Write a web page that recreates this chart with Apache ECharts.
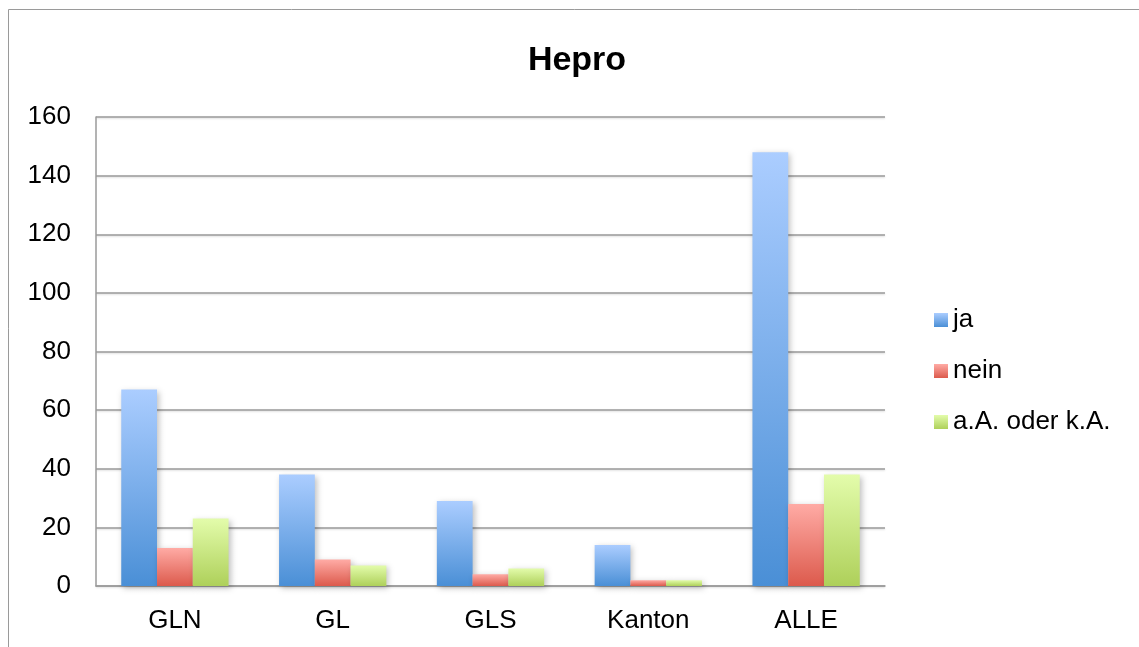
<!DOCTYPE html>
<html>
<head>
<meta charset="utf-8">
<title>Hepro</title>
<script src="https://cdn.jsdelivr.net/npm/echarts@6/dist/echarts.min.js"></script>
<style>
    html, body { margin: 0; padding: 0; background: #ffffff; }
    #chart { width: 1139px; height: 647px; }
</style>
</head>
<body>
<div id="chart"></div>
<script>
    // Daten
    const categories = ['GLN', 'GL', 'GLS', 'Kanton', 'ALLE'];
    const ja = [67, 38, 29, 14, 148];
    const nein = [13, 9, 4, 2, 28];
    const keineAngabe = [23, 7, 6, 2, 38];
    const yTicks = [0, 20, 40, 60, 80, 100, 120, 140, 160];

    const font = '"Liberation Sans", Arial, sans-serif';

    function grad(top, bottom) {
        return new echarts.graphic.LinearGradient(0, 0, 0, 1, [
            { offset: 0, color: top },
            { offset: 1, color: bottom },
        ]);
    }

    function barSeries(name, data, top, bottom) {
        return {
            name: name,
            type: 'bar',
            data: data,
            barGap: '0%',
            barCategoryGap: '32%',
            itemStyle: {
                color: grad(top, bottom),
                shadowColor: 'rgba(0,0,0,0.25)',
                shadowBlur: 6,
                shadowOffsetX: 2,
                shadowOffsetY: 2,
            },
        };
    }

    const chart = echarts.init(document.getElementById('chart'));
    chart.setOption({
        animation: false,
        backgroundColor: '#ffffff',
        textStyle: { fontFamily: font },
        title: {
            text: 'Hepro',
            left: 577,
            top: 44,
            padding: 0,
            textAlign: 'center',
            textStyle: { fontSize: 34, fontWeight: 'bold', color: '#000', fontFamily: font },
        },
        // Rahmen
        graphic: [{
            type: 'rect',
            shape: { x: 8.5, y: 9.5, width: 1200, height: 700 },
            style: { fill: 'none', stroke: '#9a9a9a', lineWidth: 1 },
            silent: true,
        }],
        legend: {
            orient: 'vertical',
            left: 934,
            top: 307,
            padding: 0,
            itemWidth: 14,
            itemHeight: 14,
            itemGap: 25,
            icon: 'rect',
            textStyle: { fontSize: 26, color: '#000', fontFamily: font },
            data: ['ja', 'nein', 'a.A. oder k.A.'],
        },
        grid: {
            left: 96,
            right: 1139 - 885,
            top: 117,
            bottom: 647 - 586,
            containLabel: false,
        },
        xAxis: {
            type: 'category',
            data: categories,
            axisLine: { lineStyle: { color: '#9a9a9a', width: 1.5 } },
            axisTick: { show: false },
            axisLabel: { fontSize: 26, color: '#000', margin: 22, fontFamily: font },
        },
        yAxis: {
            type: 'value',
            min: yTicks[0],
            max: yTicks[yTicks.length - 1],
            interval: yTicks[1] - yTicks[0],
            axisLine: { show: true, lineStyle: { color: '#9a9a9a', width: 1.5 } },
            axisTick: { show: false },
            axisLabel: { fontSize: 26, color: '#000', margin: 25, fontFamily: font },
            splitLine: {
                lineStyle: {
                    color: '#9a9a9a',
                    width: 1.5,
                    shadowColor: 'rgba(0,0,0,0.15)',
                    shadowBlur: 2,
                    shadowOffsetY: 1,
                },
            },
        },
        series: [
            barSeries('ja', ja, '#abcdff', '#4a8fd6'),
            barSeries('nein', nein, '#ffaba5', '#dc5a4c'),
            barSeries('a.A. oder k.A.', keineAngabe, '#e3fcab', '#aed05a'),
        ],
    });
</script>
</body>
</html>
